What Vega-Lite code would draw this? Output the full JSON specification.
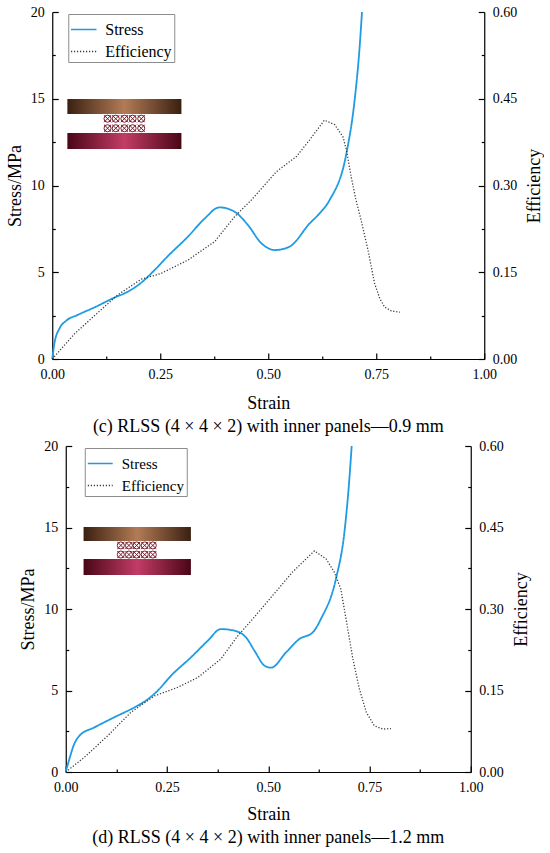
{
  "$schema": "https://vega.github.io/schema/vega-lite/v6.json",
  "padding": {"left": 6, "top": 5, "right": 0, "bottom": 0},
  "background": "white",
  "spacing": 3,
  "center": true,
  "config": {
    "view": {"stroke": null},
    "axis": {
      "grid": false,
      "labelFontSize": 14,
      "labelColor": "black",
      "titleFontSize": 18,
      "titleFontWeight": "normal",
      "titleColor": "black",
      "domainColor": "black",
      "domainWidth": 1.2,
      "tickColor": "black",
      "tickWidth": 1.2,
      "tickSize": -6,
      "labelPadding": 14,
      "labelFlush": false
    },
    "legend": {
      "labelFont": "Liberation Serif",
      "labelFontSize": 16,
      "labelColor": "black"
    }
  },
  "datasets": {
    "curves": [
      {"panel": "c", "series": "Stress", "strain": 0, "value": 0},
      {"panel": "c", "series": "Stress", "strain": 0.005, "value": 0.9},
      {"panel": "c", "series": "Stress", "strain": 0.017, "value": 1.77},
      {"panel": "c", "series": "Stress", "strain": 0.032, "value": 2.2},
      {"panel": "c", "series": "Stress", "strain": 0.059, "value": 2.54},
      {"panel": "c", "series": "Stress", "strain": 0.098, "value": 2.98},
      {"panel": "c", "series": "Stress", "strain": 0.144, "value": 3.54},
      {"panel": "c", "series": "Stress", "strain": 0.175, "value": 3.88},
      {"panel": "c", "series": "Stress", "strain": 0.206, "value": 4.4},
      {"panel": "c", "series": "Stress", "strain": 0.237, "value": 5.13},
      {"panel": "c", "series": "Stress", "strain": 0.268, "value": 5.94},
      {"panel": "c", "series": "Stress", "strain": 0.314, "value": 7.05},
      {"panel": "c", "series": "Stress", "strain": 0.353, "value": 8.1},
      {"panel": "c", "series": "Stress", "strain": 0.387, "value": 8.74},
      {"panel": "c", "series": "Stress", "strain": 0.422, "value": 8.49},
      {"panel": "c", "series": "Stress", "strain": 0.453, "value": 7.72},
      {"panel": "c", "series": "Stress", "strain": 0.484, "value": 6.67},
      {"panel": "c", "series": "Stress", "strain": 0.516, "value": 6.28},
      {"panel": "c", "series": "Stress", "strain": 0.549, "value": 6.47},
      {"panel": "c", "series": "Stress", "strain": 0.596, "value": 7.82},
      {"panel": "c", "series": "Stress", "strain": 0.619, "value": 8.4},
      {"panel": "c", "series": "Stress", "strain": 0.642, "value": 9.16},
      {"panel": "c", "series": "Stress", "strain": 0.681, "value": 11.86},
      {"panel": "c", "series": "Stress", "strain": 0.7, "value": 14.93},
      {"panel": "c", "series": "Stress", "strain": 0.711, "value": 17.81},
      {"panel": "c", "series": "Stress", "strain": 0.717, "value": 20},
      {"panel": "c", "series": "Efficiency", "strain": 0, "value": 0},
      {"panel": "c", "series": "Efficiency", "strain": 0.052, "value": 0.044},
      {"panel": "c", "series": "Efficiency", "strain": 0.113, "value": 0.085},
      {"panel": "c", "series": "Efficiency", "strain": 0.152, "value": 0.111},
      {"panel": "c", "series": "Efficiency", "strain": 0.206, "value": 0.138},
      {"panel": "c", "series": "Efficiency", "strain": 0.252, "value": 0.148},
      {"panel": "c", "series": "Efficiency", "strain": 0.314, "value": 0.171},
      {"panel": "c", "series": "Efficiency", "strain": 0.376, "value": 0.203},
      {"panel": "c", "series": "Efficiency", "strain": 0.422, "value": 0.246},
      {"panel": "c", "series": "Efficiency", "strain": 0.461, "value": 0.275},
      {"panel": "c", "series": "Efficiency", "strain": 0.519, "value": 0.324},
      {"panel": "c", "series": "Efficiency", "strain": 0.565, "value": 0.35},
      {"panel": "c", "series": "Efficiency", "strain": 0.596, "value": 0.379},
      {"panel": "c", "series": "Efficiency", "strain": 0.63, "value": 0.413},
      {"panel": "c", "series": "Efficiency", "strain": 0.654, "value": 0.405},
      {"panel": "c", "series": "Efficiency", "strain": 0.673, "value": 0.384},
      {"panel": "c", "series": "Efficiency", "strain": 0.681, "value": 0.361},
      {"panel": "c", "series": "Efficiency", "strain": 0.692, "value": 0.315},
      {"panel": "c", "series": "Efficiency", "strain": 0.703, "value": 0.275},
      {"panel": "c", "series": "Efficiency", "strain": 0.715, "value": 0.24},
      {"panel": "c", "series": "Efficiency", "strain": 0.731, "value": 0.188},
      {"panel": "c", "series": "Efficiency", "strain": 0.746, "value": 0.131},
      {"panel": "c", "series": "Efficiency", "strain": 0.758, "value": 0.105},
      {"panel": "c", "series": "Efficiency", "strain": 0.769, "value": 0.09},
      {"panel": "c", "series": "Efficiency", "strain": 0.785, "value": 0.083},
      {"panel": "c", "series": "Efficiency", "strain": 0.805, "value": 0.081},
      {"panel": "d", "series": "Stress", "strain": 0, "value": 0},
      {"panel": "d", "series": "Stress", "strain": 0.009, "value": 0.8},
      {"panel": "d", "series": "Stress", "strain": 0.021, "value": 1.72},
      {"panel": "d", "series": "Stress", "strain": 0.034, "value": 2.23},
      {"panel": "d", "series": "Stress", "strain": 0.071, "value": 2.74},
      {"panel": "d", "series": "Stress", "strain": 0.12, "value": 3.36},
      {"panel": "d", "series": "Stress", "strain": 0.17, "value": 3.97},
      {"panel": "d", "series": "Stress", "strain": 0.198, "value": 4.38},
      {"panel": "d", "series": "Stress", "strain": 0.227, "value": 4.99},
      {"panel": "d", "series": "Stress", "strain": 0.26, "value": 5.91},
      {"panel": "d", "series": "Stress", "strain": 0.309, "value": 7.03},
      {"panel": "d", "series": "Stress", "strain": 0.351, "value": 8.06},
      {"panel": "d", "series": "Stress", "strain": 0.383, "value": 8.77},
      {"panel": "d", "series": "Stress", "strain": 0.416, "value": 8.67},
      {"panel": "d", "series": "Stress", "strain": 0.445, "value": 8.26},
      {"panel": "d", "series": "Stress", "strain": 0.466, "value": 7.44},
      {"panel": "d", "series": "Stress", "strain": 0.491, "value": 6.52},
      {"panel": "d", "series": "Stress", "strain": 0.507, "value": 6.4},
      {"panel": "d", "series": "Stress", "strain": 0.544, "value": 7.34},
      {"panel": "d", "series": "Stress", "strain": 0.577, "value": 8.16},
      {"panel": "d", "series": "Stress", "strain": 0.61, "value": 8.57},
      {"panel": "d", "series": "Stress", "strain": 0.63, "value": 9.39},
      {"panel": "d", "series": "Stress", "strain": 0.667, "value": 11.84},
      {"panel": "d", "series": "Stress", "strain": 0.688, "value": 14.7},
      {"panel": "d", "series": "Stress", "strain": 0.699, "value": 17.57},
      {"panel": "d", "series": "Stress", "strain": 0.706, "value": 20},
      {"panel": "d", "series": "Efficiency", "strain": 0, "value": 0},
      {"panel": "d", "series": "Efficiency", "strain": 0.046, "value": 0.027},
      {"panel": "d", "series": "Efficiency", "strain": 0.104, "value": 0.067},
      {"panel": "d", "series": "Efficiency", "strain": 0.161, "value": 0.11},
      {"panel": "d", "series": "Efficiency", "strain": 0.219, "value": 0.14},
      {"panel": "d", "series": "Efficiency", "strain": 0.277, "value": 0.156},
      {"panel": "d", "series": "Efficiency", "strain": 0.326, "value": 0.174},
      {"panel": "d", "series": "Efficiency", "strain": 0.383, "value": 0.208},
      {"panel": "d", "series": "Efficiency", "strain": 0.425, "value": 0.251},
      {"panel": "d", "series": "Efficiency", "strain": 0.462, "value": 0.282},
      {"panel": "d", "series": "Efficiency", "strain": 0.511, "value": 0.325},
      {"panel": "d", "series": "Efficiency", "strain": 0.56, "value": 0.368},
      {"panel": "d", "series": "Efficiency", "strain": 0.614, "value": 0.407},
      {"panel": "d", "series": "Efficiency", "strain": 0.643, "value": 0.392},
      {"panel": "d", "series": "Efficiency", "strain": 0.663, "value": 0.368},
      {"panel": "d", "series": "Efficiency", "strain": 0.679, "value": 0.337},
      {"panel": "d", "series": "Efficiency", "strain": 0.692, "value": 0.282},
      {"panel": "d", "series": "Efficiency", "strain": 0.709, "value": 0.208},
      {"panel": "d", "series": "Efficiency", "strain": 0.725, "value": 0.153},
      {"panel": "d", "series": "Efficiency", "strain": 0.742, "value": 0.11},
      {"panel": "d", "series": "Efficiency", "strain": 0.762, "value": 0.085},
      {"panel": "d", "series": "Efficiency", "strain": 0.783, "value": 0.079},
      {"panel": "d", "series": "Efficiency", "strain": 0.803, "value": 0.08}
    ],
    "inset": [
      {"panel": "c", "part": "top", "x1": 0.035, "x2": 0.299, "y1": 14.12, "y2": 14.99},
      {"panel": "c", "part": "bottom", "x1": 0.035, "x2": 0.299, "y1": 12.1, "y2": 13.03},
      {"panel": "d", "part": "top", "x1": 0.044, "x2": 0.309, "y1": 14.17, "y2": 15.03},
      {"panel": "d", "part": "bottom", "x1": 0.044, "x2": 0.309, "y1": 12.09, "y2": 13.07}
    ],
    "lattice": [
      {"panel": "c", "strain": 0.128, "stress": 13.85},
      {"panel": "c", "strain": 0.147, "stress": 13.85},
      {"panel": "c", "strain": 0.167, "stress": 13.85},
      {"panel": "c", "strain": 0.186, "stress": 13.85},
      {"panel": "c", "strain": 0.206, "stress": 13.85},
      {"panel": "c", "strain": 0.128, "stress": 13.3},
      {"panel": "c", "strain": 0.147, "stress": 13.3},
      {"panel": "c", "strain": 0.167, "stress": 13.3},
      {"panel": "c", "strain": 0.186, "stress": 13.3},
      {"panel": "c", "strain": 0.206, "stress": 13.3},
      {"panel": "d", "strain": 0.136, "stress": 13.9},
      {"panel": "d", "strain": 0.156, "stress": 13.9},
      {"panel": "d", "strain": 0.175, "stress": 13.9},
      {"panel": "d", "strain": 0.195, "stress": 13.9},
      {"panel": "d", "strain": 0.215, "stress": 13.9},
      {"panel": "d", "strain": 0.136, "stress": 13.34},
      {"panel": "d", "strain": 0.156, "stress": 13.34},
      {"panel": "d", "strain": 0.175, "stress": 13.34},
      {"panel": "d", "strain": 0.195, "stress": 13.34},
      {"panel": "d", "strain": 0.215, "stress": 13.34}
    ]
  },
  "resolve": {"scale": {"color": "independent", "strokeDash": "independent"}},
  "vconcat": [
    {
      "width": 432,
      "height": 347,
      "title": {"text": "(c) RLSS (4 × 4 × 2) with inner panels—0.9 mm", "orient": "bottom", "anchor": "middle", "offset": 6, "font": "Liberation Serif", "fontSize": 18, "fontWeight": "normal", "color": "black"},
      "resolve": {"scale": {"x": "independent", "y": "independent"}},
      "layer": [
        {
          "data": {"name": "inset"},
          "transform": [{"filter": "datum.panel === 'c' && datum.part === 'top'"}],
          "mark": {"type": "rect", "fill": {"gradient": "linear", "stops": [{"offset": 0, "color": "#3a2011"}, {"offset": 0.5, "color": "#b27b56"}, {"offset": 1, "color": "#3a2011"}]}},
          "encoding": {
            "x": {"field": "x1", "type": "quantitative", "scale": {"domain": [0, 1]}, "axis": null},
            "x2": {"field": "x2"},
            "y": {"field": "y1", "type": "quantitative", "scale": {"domain": [0, 20]}, "axis": null},
            "y2": {"field": "y2"}
          }
        },
        {
          "data": {"name": "inset"},
          "transform": [{"filter": "datum.panel === 'c' && datum.part === 'bottom'"}],
          "mark": {"type": "rect", "fill": {"gradient": "linear", "stops": [{"offset": 0, "color": "#4a0616"}, {"offset": 0.5, "color": "#c23c66"}, {"offset": 1, "color": "#4a0616"}]}},
          "encoding": {
            "x": {"field": "x1", "type": "quantitative", "scale": {"domain": [0, 1]}, "axis": null},
            "x2": {"field": "x2"},
            "y": {"field": "y1", "type": "quantitative", "scale": {"domain": [0, 20]}, "axis": null},
            "y2": {"field": "y2"}
          }
        },
        {
          "data": {"name": "lattice"},
          "transform": [{"filter": "datum.panel === 'c'"}],
          "mark": {"type": "point", "shape": "circle", "filled": false, "size": 50, "stroke": "#7a1a2a", "strokeWidth": 1, "opacity": 1},
          "encoding": {
            "x": {"field": "strain", "type": "quantitative", "scale": {"domain": [0, 1]}, "axis": null},
            "y": {"field": "stress", "type": "quantitative", "scale": {"domain": [0, 20]}, "axis": null}
          }
        },
        {
          "data": {"name": "lattice"},
          "transform": [{"filter": "datum.panel === 'c'"}],
          "mark": {"type": "point", "shape": "M-1,-1L1,1M-1,1L1,-1", "filled": false, "size": 50, "stroke": "#7a1a2a", "strokeWidth": 1, "opacity": 1},
          "encoding": {
            "x": {"field": "strain", "type": "quantitative", "scale": {"domain": [0, 1]}, "axis": null},
            "y": {"field": "stress", "type": "quantitative", "scale": {"domain": [0, 20]}, "axis": null}
          }
        },
        {
          "data": {"name": "curves"},
          "transform": [{"filter": "datum.panel === 'c' && datum.series === 'Stress'"}],
          "mark": {"type": "line", "opacity": 0},
          "encoding": {
            "x": {"field": "strain", "type": "quantitative", "scale": {"domain": [0, 1], "nice": false}, "axis": {"orient": "bottom", "values": [0.125, 0.375, 0.625, 0.875], "labels": false, "domain": false, "title": null, "tickSize": -3}},
            "y": {"field": "value", "type": "quantitative", "scale": {"domain": [0, 20], "nice": false}, "axis": {"orient": "left", "values": [2.5, 7.5, 12.5, 17.5], "labels": false, "domain": false, "title": null, "tickSize": -3}}
          }
        },
        {
          "data": {"name": "curves"},
          "transform": [{"filter": "datum.panel === 'c' && datum.series === 'Efficiency'"}],
          "mark": {"type": "line", "opacity": 0},
          "encoding": {
            "x": {"field": "strain", "type": "quantitative", "scale": {"domain": [0, 1], "nice": false}, "axis": null},
            "y": {"field": "value", "type": "quantitative", "scale": {"domain": [0, 0.6], "nice": false}, "axis": {"orient": "right", "values": [0.075, 0.225, 0.375, 0.525], "labels": false, "domain": false, "title": null, "tickSize": -3}}
          }
        },
        {
          "data": {"name": "curves"},
          "transform": [{"filter": "datum.panel === 'c' && datum.series === 'Stress'"}],
          "mark": {"type": "line", "opacity": 0},
          "encoding": {
            "x": {"field": "strain", "type": "quantitative", "scale": {"domain": [0, 1], "nice": false}, "axis": {"orient": "bottom", "values": [0, 0.25, 0.5, 0.75, 1], "format": ".2f", "title": "Strain", "titlePadding": 13, "titleBaseline": "top", "labelFont": "Liberation Serif", "titleFont": "Liberation Serif", "titleFontWeight": "normal"}},
            "y": {"field": "value", "type": "quantitative", "scale": {"domain": [0, 20], "nice": false}, "axis": null}
          }
        },
        {
          "data": {"name": "curves"},
          "transform": [{"filter": "datum.panel === 'c' && datum.series === 'Stress'"}],
          "mark": {"type": "line", "interpolate": "monotone", "strokeWidth": 1.8},
          "encoding": {
            "x": {"field": "strain", "type": "quantitative", "scale": {"domain": [0, 1], "nice": false}, "axis": null},
            "y": {"field": "value", "type": "quantitative", "scale": {"domain": [0, 20], "nice": false}, "axis": {"orient": "left", "values": [0, 5, 10, 15, 20], "title": "Stress/MPa", "titlePadding": 6, "titleAngle": 270, "titleBaseline": "bottom", "labelFont": "Liberation Serif", "titleFont": "Liberation Serif", "titleFontWeight": "normal"}},
            "color": {"field": "series", "type": "nominal", "scale": {"domain": ["Stress", "Efficiency"], "range": ["#1e9be2", "#3a3a3a"]}, "legend": {"title": null, "orient": "none", "legendX": 16, "legendY": 2, "strokeColor": "#8c8c8c", "fillColor": "white", "padding": 2, "symbolType": "stroke", "symbolSize": 650, "symbolStrokeWidth": 1.5, "rowPadding": 0, "labelOffset": 8}},
            "strokeDash": {"field": "series", "type": "nominal", "scale": {"domain": ["Stress", "Efficiency"], "range": [[1, 0], [1.2, 1.8]]}, "legend": {"title": null, "orient": "none", "legendX": 16, "legendY": 2, "strokeColor": "#8c8c8c", "fillColor": "white", "padding": 2, "symbolType": "stroke", "symbolSize": 650, "symbolStrokeWidth": 1.5, "rowPadding": 0, "labelOffset": 8}}
          }
        },
        {
          "data": {"name": "curves"},
          "transform": [{"filter": "datum.panel === 'c' && datum.series === 'Efficiency'"}],
          "mark": {"type": "line", "strokeWidth": 1.3},
          "encoding": {
            "x": {"field": "strain", "type": "quantitative", "scale": {"domain": [0, 1], "nice": false}, "axis": null},
            "y": {"field": "value", "type": "quantitative", "scale": {"domain": [0, 0.6], "nice": false}, "axis": {"orient": "right", "values": [0, 0.15, 0.3, 0.45, 0.6], "format": ".2f", "title": "Efficiency", "titleAngle": 270, "titleBaseline": "top", "titlePadding": 9, "labelFont": "Liberation Serif", "titleFont": "Liberation Serif", "titleFontWeight": "normal"}},
            "color": {"field": "series", "type": "nominal", "scale": {"domain": ["Stress", "Efficiency"], "range": ["#1e9be2", "#3a3a3a"]}, "legend": {"title": null, "orient": "none", "legendX": 16, "legendY": 2, "strokeColor": "#8c8c8c", "fillColor": "white", "padding": 2, "symbolType": "stroke", "symbolSize": 650, "symbolStrokeWidth": 1.5, "rowPadding": 0, "labelOffset": 8}},
            "strokeDash": {"field": "series", "type": "nominal", "scale": {"domain": ["Stress", "Efficiency"], "range": [[1, 0], [1.2, 1.8]]}, "legend": {"title": null, "orient": "none", "legendX": 16, "legendY": 2, "strokeColor": "#8c8c8c", "fillColor": "white", "padding": 2, "symbolType": "stroke", "symbolSize": 650, "symbolStrokeWidth": 1.5, "rowPadding": 0, "labelOffset": 8}}
          }
        }
      ]
    },
    {
      "width": 405,
      "height": 326,
      "title": {"text": "(d) RLSS (4 × 4 × 2) with inner panels—1.2 mm", "orient": "bottom", "anchor": "middle", "offset": 6, "font": "Liberation Serif", "fontSize": 18, "fontWeight": "normal", "color": "black"},
      "resolve": {"scale": {"x": "independent", "y": "independent"}},
      "layer": [
        {
          "data": {"name": "inset"},
          "transform": [{"filter": "datum.panel === 'd' && datum.part === 'top'"}],
          "mark": {"type": "rect", "fill": {"gradient": "linear", "stops": [{"offset": 0, "color": "#3a2011"}, {"offset": 0.5, "color": "#b27b56"}, {"offset": 1, "color": "#3a2011"}]}},
          "encoding": {
            "x": {"field": "x1", "type": "quantitative", "scale": {"domain": [0, 1]}, "axis": null},
            "x2": {"field": "x2"},
            "y": {"field": "y1", "type": "quantitative", "scale": {"domain": [0, 20]}, "axis": null},
            "y2": {"field": "y2"}
          }
        },
        {
          "data": {"name": "inset"},
          "transform": [{"filter": "datum.panel === 'd' && datum.part === 'bottom'"}],
          "mark": {"type": "rect", "fill": {"gradient": "linear", "stops": [{"offset": 0, "color": "#4a0616"}, {"offset": 0.5, "color": "#c23c66"}, {"offset": 1, "color": "#4a0616"}]}},
          "encoding": {
            "x": {"field": "x1", "type": "quantitative", "scale": {"domain": [0, 1]}, "axis": null},
            "x2": {"field": "x2"},
            "y": {"field": "y1", "type": "quantitative", "scale": {"domain": [0, 20]}, "axis": null},
            "y2": {"field": "y2"}
          }
        },
        {
          "data": {"name": "lattice"},
          "transform": [{"filter": "datum.panel === 'd'"}],
          "mark": {"type": "point", "shape": "circle", "filled": false, "size": 50, "stroke": "#7a1a2a", "strokeWidth": 1, "opacity": 1},
          "encoding": {
            "x": {"field": "strain", "type": "quantitative", "scale": {"domain": [0, 1]}, "axis": null},
            "y": {"field": "stress", "type": "quantitative", "scale": {"domain": [0, 20]}, "axis": null}
          }
        },
        {
          "data": {"name": "lattice"},
          "transform": [{"filter": "datum.panel === 'd'"}],
          "mark": {"type": "point", "shape": "M-1,-1L1,1M-1,1L1,-1", "filled": false, "size": 50, "stroke": "#7a1a2a", "strokeWidth": 1, "opacity": 1},
          "encoding": {
            "x": {"field": "strain", "type": "quantitative", "scale": {"domain": [0, 1]}, "axis": null},
            "y": {"field": "stress", "type": "quantitative", "scale": {"domain": [0, 20]}, "axis": null}
          }
        },
        {
          "data": {"name": "curves"},
          "transform": [{"filter": "datum.panel === 'd' && datum.series === 'Stress'"}],
          "mark": {"type": "line", "opacity": 0},
          "encoding": {
            "x": {"field": "strain", "type": "quantitative", "scale": {"domain": [0, 1], "nice": false}, "axis": {"orient": "bottom", "values": [0.125, 0.375, 0.625, 0.875], "labels": false, "domain": false, "title": null, "tickSize": -3}},
            "y": {"field": "value", "type": "quantitative", "scale": {"domain": [0, 20], "nice": false}, "axis": {"orient": "left", "values": [2.5, 7.5, 12.5, 17.5], "labels": false, "domain": false, "title": null, "tickSize": -3}}
          }
        },
        {
          "data": {"name": "curves"},
          "transform": [{"filter": "datum.panel === 'd' && datum.series === 'Efficiency'"}],
          "mark": {"type": "line", "opacity": 0},
          "encoding": {
            "x": {"field": "strain", "type": "quantitative", "scale": {"domain": [0, 1], "nice": false}, "axis": null},
            "y": {"field": "value", "type": "quantitative", "scale": {"domain": [0, 0.6], "nice": false}, "axis": {"orient": "right", "values": [0.075, 0.225, 0.375, 0.525], "labels": false, "domain": false, "title": null, "tickSize": -3}}
          }
        },
        {
          "data": {"name": "curves"},
          "transform": [{"filter": "datum.panel === 'd' && datum.series === 'Stress'"}],
          "mark": {"type": "line", "opacity": 0},
          "encoding": {
            "x": {"field": "strain", "type": "quantitative", "scale": {"domain": [0, 1], "nice": false}, "axis": {"orient": "bottom", "values": [0, 0.25, 0.5, 0.75, 1], "format": ".2f", "title": "Strain", "titlePadding": 11, "titleBaseline": "top", "labelFont": "Liberation Serif", "titleFont": "Liberation Serif", "titleFontWeight": "normal"}},
            "y": {"field": "value", "type": "quantitative", "scale": {"domain": [0, 20], "nice": false}, "axis": null}
          }
        },
        {
          "data": {"name": "curves"},
          "transform": [{"filter": "datum.panel === 'd' && datum.series === 'Stress'"}],
          "mark": {"type": "line", "interpolate": "monotone", "strokeWidth": 1.8},
          "encoding": {
            "x": {"field": "strain", "type": "quantitative", "scale": {"domain": [0, 1], "nice": false}, "axis": null},
            "y": {"field": "value", "type": "quantitative", "scale": {"domain": [0, 20], "nice": false}, "axis": {"orient": "left", "values": [0, 5, 10, 15, 20], "title": "Stress/MPa", "titlePadding": 6, "titleAngle": 270, "titleBaseline": "bottom", "labelFont": "Liberation Serif", "titleFont": "Liberation Serif", "titleFontWeight": "normal"}},
            "color": {"field": "series", "type": "nominal", "scale": {"domain": ["Stress", "Efficiency"], "range": ["#1e9be2", "#3a3a3a"]}, "legend": {"title": null, "orient": "none", "legendX": 19, "legendY": 2, "strokeColor": "#8c8c8c", "fillColor": "white", "padding": 2, "symbolType": "stroke", "symbolSize": 620, "symbolStrokeWidth": 1.5, "rowPadding": 0, "labelOffset": 8, "labelFontSize": 15}},
            "strokeDash": {"field": "series", "type": "nominal", "scale": {"domain": ["Stress", "Efficiency"], "range": [[1, 0], [1.2, 1.8]]}, "legend": {"title": null, "orient": "none", "legendX": 19, "legendY": 2, "strokeColor": "#8c8c8c", "fillColor": "white", "padding": 2, "symbolType": "stroke", "symbolSize": 620, "symbolStrokeWidth": 1.5, "rowPadding": 0, "labelOffset": 8, "labelFontSize": 15}}
          }
        },
        {
          "data": {"name": "curves"},
          "transform": [{"filter": "datum.panel === 'd' && datum.series === 'Efficiency'"}],
          "mark": {"type": "line", "strokeWidth": 1.3},
          "encoding": {
            "x": {"field": "strain", "type": "quantitative", "scale": {"domain": [0, 1], "nice": false}, "axis": null},
            "y": {"field": "value", "type": "quantitative", "scale": {"domain": [0, 0.6], "nice": false}, "axis": {"orient": "right", "values": [0, 0.15, 0.3, 0.45, 0.6], "format": ".2f", "title": "Efficiency", "titleAngle": 270, "titleBaseline": "top", "titlePadding": 9, "labelFont": "Liberation Serif", "titleFont": "Liberation Serif", "titleFontWeight": "normal"}},
            "color": {"field": "series", "type": "nominal", "scale": {"domain": ["Stress", "Efficiency"], "range": ["#1e9be2", "#3a3a3a"]}, "legend": {"title": null, "orient": "none", "legendX": 19, "legendY": 2, "strokeColor": "#8c8c8c", "fillColor": "white", "padding": 2, "symbolType": "stroke", "symbolSize": 620, "symbolStrokeWidth": 1.5, "rowPadding": 0, "labelOffset": 8, "labelFontSize": 15}},
            "strokeDash": {"field": "series", "type": "nominal", "scale": {"domain": ["Stress", "Efficiency"], "range": [[1, 0], [1.2, 1.8]]}, "legend": {"title": null, "orient": "none", "legendX": 19, "legendY": 2, "strokeColor": "#8c8c8c", "fillColor": "white", "padding": 2, "symbolType": "stroke", "symbolSize": 620, "symbolStrokeWidth": 1.5, "rowPadding": 0, "labelOffset": 8, "labelFontSize": 15}}
          }
        }
      ]
    }
  ]
}
